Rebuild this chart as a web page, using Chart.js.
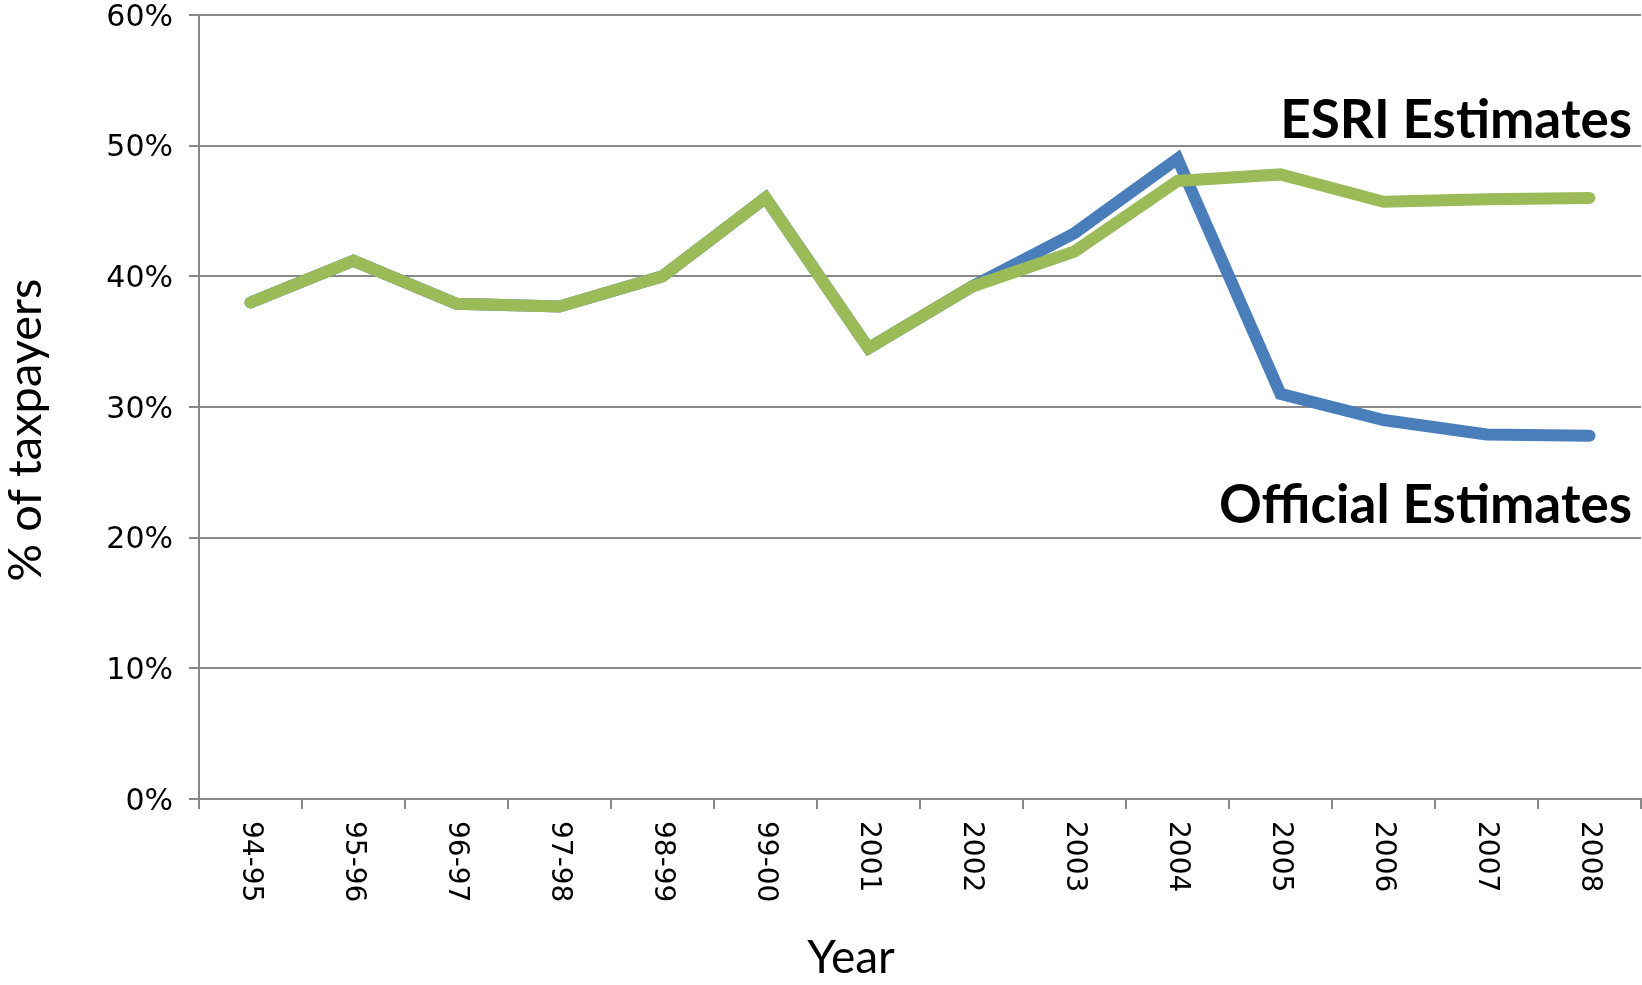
<!DOCTYPE html>
<html>
<head>
<meta charset="utf-8">
<script src="https://cdn.jsdelivr.net/npm/chart.js@4"></script>
<style>
  body { margin: 0; background: #fff; }
  #wrap { width: 1642px; height: 985px; }
</style>
</head>
<body>
<div id="wrap"><canvas id="lineChart" width="1642" height="985"></canvas></div>
<script>
const years = ['94-95', '95-96', '96-97', '97-98', '98-99', '99-00', '2001', '2002', '2003', '2004', '2005', '2006', '2007', '2008'];
const officialEst = [38.0, 41.2, 37.9, 37.7, 40.0, 46.0, 34.5, 39.2, 43.3, 49.0, 31.0, 29.0, 27.9, 27.8];
const esriEst = [38.0, 41.2, 37.9, 37.7, 40.0, 46.0, 34.5, 39.2, 41.9, 47.3, 47.8, 45.7, 45.9, 46.0];
const seriesNames = ['Official Estimates', 'ESRI Estimates'];
// where the series names sit, in % on the y axis
const nameLevels = [21.1, 50.6];

const gridGrey = '#888888';

// x labels run top to bottom, Chart.js only rotates the other way
const extras = {
    id: 'extras',
    afterDraw(chart) {
        const ctx = chart.ctx;
        const xs = chart.scales.x;
        const ys = chart.scales.y;
        const area = chart.chartArea;
        ctx.save();
        ctx.fillStyle = '#000';
        ctx.font = '28px "DejaVu Sans"';
        ctx.textAlign = 'left';
        ctx.textBaseline = 'middle';
        years.forEach((lbl, i) => {
            const x = xs.getPixelForTick(i);
            ctx.save();
            ctx.translate(x, area.bottom + 22);
            ctx.rotate(Math.PI / 2);
            ctx.fillText(lbl, 0, 0);
            ctx.restore();
        });

        ctx.font = 'bold 53px Lato';
        ctx.textAlign = 'right';
        ctx.textBaseline = 'alphabetic';
        seriesNames.forEach((name, i) => {
            ctx.fillText(name, area.right - 9, ys.getPixelForValue(nameLevels[i]));
        });

        ctx.font = '46px Lato';
        ctx.textAlign = 'center';
        ctx.textBaseline = 'middle';
        ctx.fillText('Year', 851, 958);

        ctx.save();
        ctx.translate(26, 430);
        ctx.rotate(-Math.PI / 2);
        ctx.font = '47px Lato';
        ctx.fillText('% of taxpayers', 0, 0);
        ctx.restore();
        ctx.restore();
    }
};

new Chart(document.getElementById('lineChart'), {
    type: 'line',
    data: {
        labels: years,
        datasets: [{
            label: seriesNames[1],
            data: esriEst,
            borderColor: '#9bbb59',
            borderWidth: 12,
            borderCapStyle: 'round',
            borderJoinStyle: 'miter',
            pointRadius: 0,
            tension: 0,
            order: 0
        }, {
            label: seriesNames[0],
            data: officialEst,
            borderColor: '#4a7ebb',
            borderWidth: 12,
            borderCapStyle: 'round',
            borderJoinStyle: 'miter',
            pointRadius: 0,
            tension: 0,
            order: 1
        }]
    },
    options: {
        responsive: false,
        animation: false,
        layout: { padding: { top: 15, right: 1, left: 0, bottom: 0 } },
        plugins: {
            legend: { display: false },
            tooltip: { enabled: false }
        },
        scales: {
            x: {
                offset: true,
                afterFit: s => {
                    s.height = 186;
                    s.paddingLeft = 0;
                    s.paddingRight = 0;
                },
                grid: {
                    offset: true,
                    drawOnChartArea: false,
                    drawTicks: true,
                    tickLength: 10,
                    color: gridGrey,
                    lineWidth: 2
                },
                border: { color: gridGrey, width: 2 },
                ticks: { display: false }
            },
            y: {
                min: 0,
                max: 60,
                afterFit: s => {
                    s.width = 199;
                    s.paddingTop = 0;
                    s.paddingBottom = 0;
                },
                grid: {
                    color: gridGrey,
                    lineWidth: 2,
                    tickLength: 10
                },
                border: { color: gridGrey, width: 2 },
                ticks: {
                    stepSize: 10,
                    padding: 16,
                    labelOffset: 3,
                    color: '#000',
                    font: { family: 'DejaVu Sans', size: 30, lineHeight: 1.03 },
                    callback: v => v + '%'
                }
            }
        }
    },
    plugins: [extras]
});
</script>
</body>
</html>
